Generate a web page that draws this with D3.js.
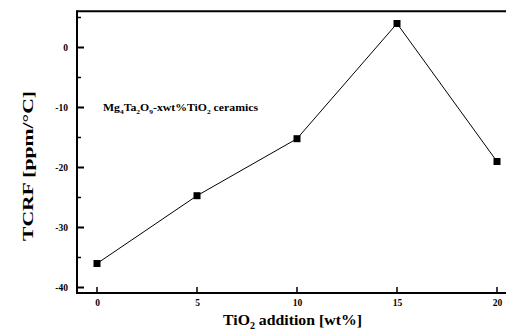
<!DOCTYPE html>
<html><head><meta charset="utf-8">
<script src="https://cdn.jsdelivr.net/npm/d3@7"></script>
<style>body{margin:0;background:#fff}svg{display:block}text{font-family:"Liberation Serif","Times New Roman",serif;font-weight:bold;fill:#000}</style>
</head><body>
<script>
const xValues = [0, 5, 10, 15, 20];
const tcrf = [-36.0, -24.7, -15.2, 4.0, -19.0];
const xTicks = [0, 5, 10, 15, 20];
const yTicks = [0, -10, -20, -30, -40];
const yMinorTicks = [5, -5, -15, -25, -35];

(function(){
const W = 506, H = 331;
const svg = d3.select("body").append("svg").attr("width", W).attr("height", H);
const x = d3.scaleLinear().domain([0, 20]).range([97, 497]);
const y = d3.scaleLinear().domain([0, -40]).range([47.5, 287.5]);
const pl = x(-1), pr = 506, pt = y(6.05), pb = y(-40.9);
const fmt = d => String(d);

// frame
svg.append("line").attr("x1", pl).attr("x2", pl).attr("y1", pt - 1).attr("y2", pb + 1).attr("stroke", "#000").attr("stroke-width", 2);
svg.append("line").attr("x1", pl).attr("x2", pr).attr("y1", pb).attr("y2", pb).attr("stroke", "#000").attr("stroke-width", 2);
svg.append("line").attr("x1", pl).attr("x2", pr).attr("y1", pt).attr("y2", pt).attr("stroke", "#000").attr("stroke-width", 2);

// y axis (ticks inward)
const yAxis = d3.axisLeft(y).tickValues(yTicks).tickSize(0).tickPadding(9).tickFormat(fmt);
const gy = svg.append("g").attr("transform", `translate(${pl},0)`).call(yAxis);
gy.select(".domain").remove();
gy.selectAll("text").attr("font-size", 9.5).style("font-family", "'Liberation Serif',serif").style("font-weight", "bold");
svg.selectAll(".ymaj").data(yTicks).enter().append("line")
  .attr("x1", pl).attr("x2", pl + 7).attr("y1", d => y(d)).attr("y2", d => y(d)).attr("stroke", "#000").attr("stroke-width", 2);
svg.selectAll(".ymin").data(yMinorTicks).enter().append("line")
  .attr("x1", pl).attr("x2", pl + 4).attr("y1", d => y(d)).attr("y2", d => y(d)).attr("stroke", "#000").attr("stroke-width", 1.5);

// x axis (ticks inward)
const xAxis = d3.axisBottom(x).tickValues(xTicks).tickSize(0).tickPadding(6).tickFormat(fmt);
const gx = svg.append("g").attr("transform", `translate(0,${pb})`).call(xAxis);
gx.select(".domain").remove();
gx.selectAll("text").attr("font-size", 9.5).style("font-family", "'Liberation Serif',serif").style("font-weight", "bold");
svg.selectAll(".xmaj").data(xTicks).enter().append("line")
  .attr("x1", d => x(d)).attr("x2", d => x(d)).attr("y1", pb).attr("y2", pb - 6).attr("stroke", "#000").attr("stroke-width", 1.5);

// data line
const data = xValues.map((v, i) => [v, tcrf[i]]);
svg.append("path").datum(data)
  .attr("d", d3.line().x(d => x(d[0])).y(d => y(d[1])))
  .attr("fill", "none").attr("stroke", "#000").attr("stroke-width", 1);
svg.selectAll(".pt").data(data).enter().append("rect")
  .attr("x", d => x(d[0]) - 3.5).attr("y", d => y(d[1]) - 3.5).attr("width", 7).attr("height", 7).attr("fill", "#000");

// annotation
const ann = svg.append("text").attr("x", 103).attr("y", 110.5).attr("font-size", 11)
  .attr("textLength", 155).attr("lengthAdjust", "spacingAndGlyphs");
ann.append("tspan").text("Mg");
ann.append("tspan").attr("font-size", 7).attr("dy", 3).text("4");
ann.append("tspan").attr("dy", -3).text("Ta");
ann.append("tspan").attr("font-size", 7).attr("dy", 3).text("2");
ann.append("tspan").attr("dy", -3).text("O");
ann.append("tspan").attr("font-size", 7).attr("dy", 3).text("9");
ann.append("tspan").attr("dy", -3).text("-xwt%TiO");
ann.append("tspan").attr("font-size", 7).attr("dy", 3).text("2");
ann.append("tspan").attr("dy", -3).text(" ceramics");

// axis titles
const xt = svg.append("text").attr("x", 223).attr("y", 324.5).attr("font-size", 15)
  .attr("textLength", 139).attr("lengthAdjust", "spacingAndGlyphs");
xt.append("tspan").text("TiO");
xt.append("tspan").attr("font-size", 9.5).attr("dy", 4).text("2");
xt.append("tspan").attr("dy", -4).text(" addition [wt%]");

svg.append("text").attr("transform", "translate(33,166) rotate(-90)").attr("text-anchor", "middle").attr("font-size", 14.5)
  .attr("textLength", 150).attr("lengthAdjust", "spacingAndGlyphs")
  .text("TCRF [ppm/°C]");
})();
</script>
</body></html>
